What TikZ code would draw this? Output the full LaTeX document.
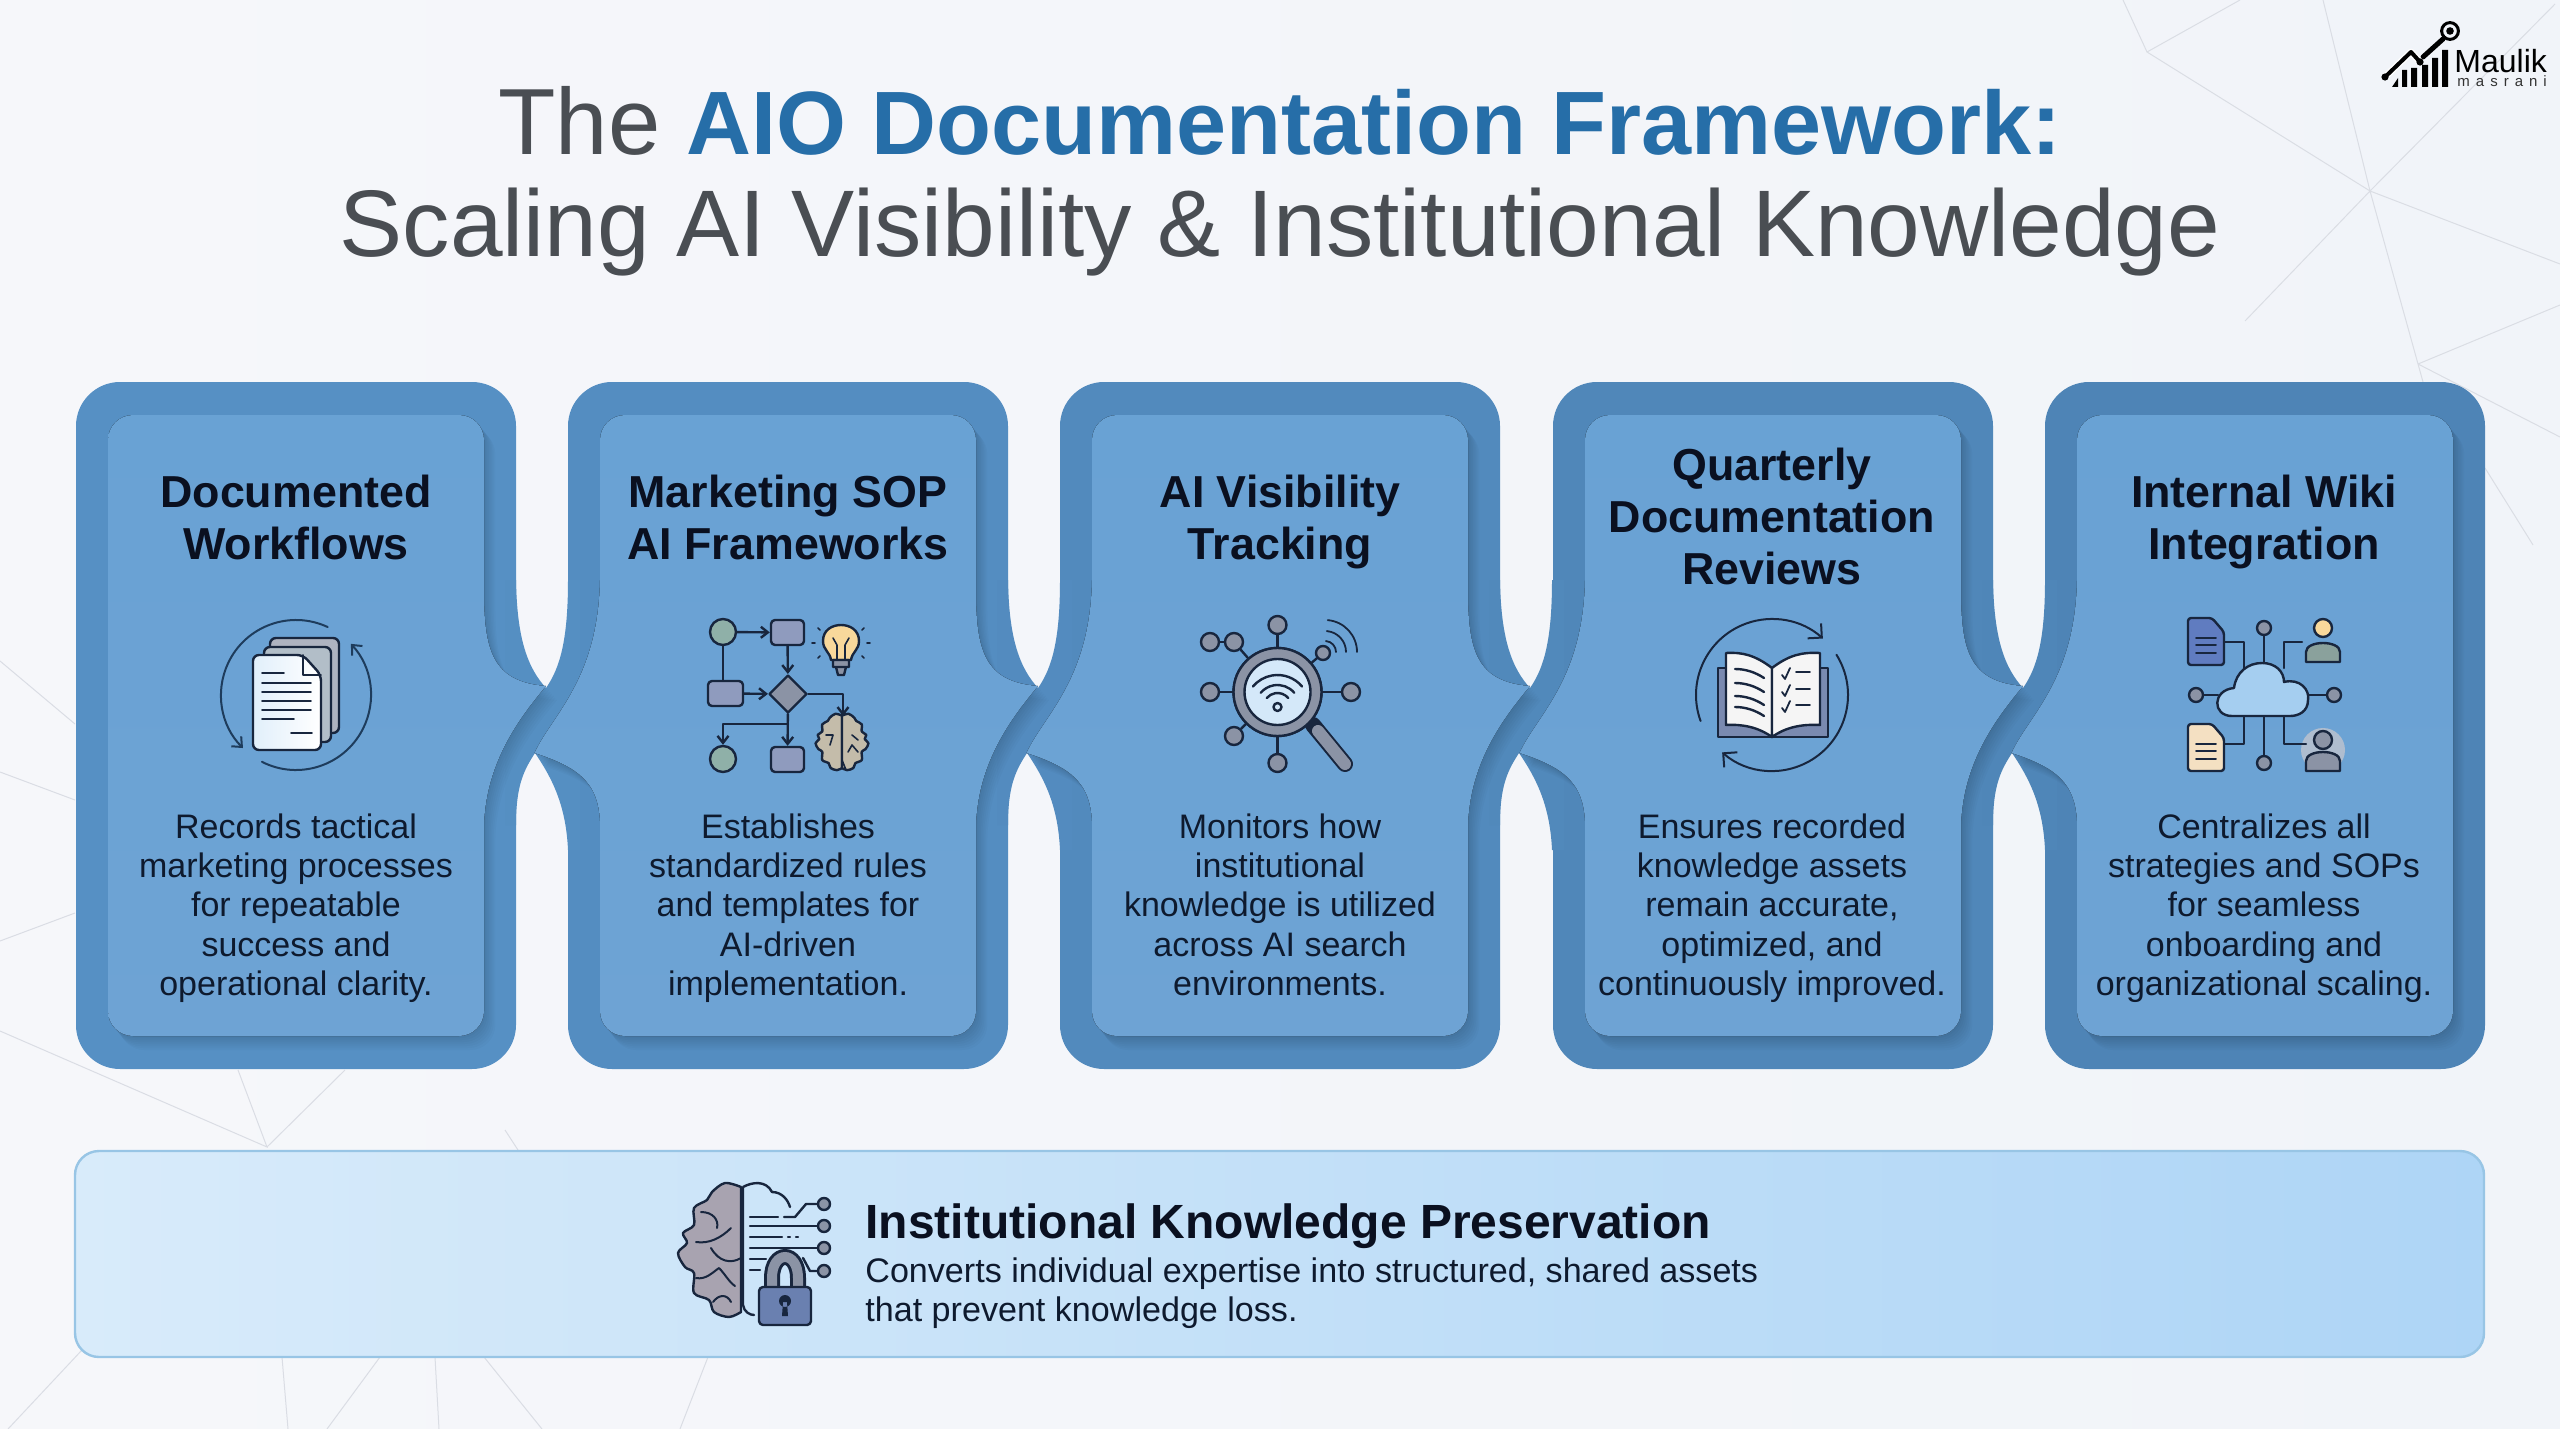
\documentclass[tikz,border=0pt]{standalone}
\usepackage{fontspec}
\setmainfont{Liberation Sans}
\newfontfamily\spacedfont[LetterSpace=40]{Liberation Sans}
\usetikzlibrary{arrows.meta, shapes.geometric}
\definecolor{bgleft}{RGB}{246, 247, 250}
\definecolor{bgright}{RGB}{241, 244, 249}
\definecolor{netgray}{RGB}{218, 221, 228}
\definecolor{bandblue}{RGB}{78, 132, 182}
\definecolor{bandlight}{RGB}{86, 144, 196}
\definecolor{facetop}{RGB}{105, 162, 212}
\definecolor{facebot}{RGB}{110, 163, 212}
\definecolor{titleblue}{RGB}{38, 110, 168}
\definecolor{titlegray}{RGB}{74, 78, 83}
\definecolor{inkdark}{RGB}{10, 16, 32}
\definecolor{inktext}{RGB}{14, 26, 46}
\definecolor{icondark}{RGB}{24, 38, 62}
\definecolor{iconarc}{RGB}{30, 60, 92}
\definecolor{icongray}{RGB}{139, 147, 165}
\definecolor{iconslate}{RGB}{143, 155, 190}
\definecolor{icongreen}{RGB}{143, 176, 168}
\definecolor{iconsand}{RGB}{248, 216, 155}
\definecolor{iconbrain}{RGB}{196, 188, 170}
\definecolor{iconglass}{RGB}{212, 232, 249}
\definecolor{iconcloud}{RGB}{165, 206, 240}
\definecolor{iconindigo}{RGB}{96, 124, 192}
\definecolor{iconcream}{RGB}{244, 224, 194}
\definecolor{bannerline}{RGB}{152, 197, 229}
\definecolor{bannerleft}{RGB}{216, 235, 250}
\definecolor{bannerright}{RGB}{174, 213, 246}
\definecolor{brainbig}{RGB}{168, 163, 176}
\definecolor{lockblue}{RGB}{106, 128, 176}

% the face of a card, in the frame of the first card
\newcommand{\facepath}[2]{(108,440) arc[start angle=180,end angle=90,radius=12.5pt] -- (459,415)
  arc[start angle=90,end angle=0,radius=12.5pt] #1 arc[start angle=0,end angle=-90,radius=12.5pt]
  -- (133,1036) arc[start angle=-90,end angle=-180,radius=12.5pt] #2 -- cycle}
\newcommand{\tabright}{-- (484,590) .. controls (484,650) and (492,682) .. (546,686)
  .. controls (522,715) and (486,760) .. (484,825) -- (484,1011)}
\newcommand{\flatright}{-- (484,1011)}
\newcommand{\notchleft}{-- (108,821) .. controls (106,785) and (90,768) .. (42.5,753)
  .. controls (60,715) and (106,680) .. (108,580)}
\newcommand{\flatleft}{}
\newcommand{\faceshadow}[3]{\foreach \s in {2,4,...,14}{
  \fill[black, opacity=.02, shift={(#1+\s*.8,\s)}] \facepath{#2}{#3};}}
% half a brain, spine on x=0
\newcommand{\brainhalf}{plot[smooth, tension=.55] coordinates {(0,-63) (-16,-67) (-29,-58) (-34,-50)
  (-47,-42) (-47,-25) (-58,-17) (-54,-7) (-63,3) (-56,17) (-47,23) (-47,43) (-32,50) (-27,62)
  (-12,67) (0,62)} -- cycle}

\tikzset{
  cardtitle/.style={font=\fontsize{22.4}{26}\selectfont\bfseries, text=inkdark, align=center, inner sep=0},
  carddesc/.style={font=\fontsize{17}{19.6}\selectfont, text=inktext, align=center, inner sep=0},
  icline/.style={draw=icondark, line width=1.2pt, line join=round, line cap=round},
  icarc/.style={draw=iconarc, line width=1pt, line cap=round},
  icarrow/.style={icline, -{Straight Barb[length=3.5pt, width=5.5pt]}},
  bluecirc/.style={circle, icline, fill=icongray, minimum size=9pt, inner sep=0},
  flowcirc/.style={circle, icline, fill=icongreen, minimum size=13pt, inner sep=0},
  flowsq/.style={rectangle, rounded corners=2pt, icline, fill=iconslate, minimum width=16.5pt,
                 minimum height=12.5pt, inner sep=0},
  lockcirc/.style={circle, draw=icondark, fill=icongray, minimum size=6pt, inner sep=0, line width=1.2pt},
}
\newcommand{\wifiarc}[4]{([shift={(#3:#4)}]#1,#2) arc[start angle=#3, end angle=180-#3, radius=#4]}

\begin{document}
\begin{tikzpicture}[x=0.5pt, y=-0.5pt]
\useasboundingbox (0,0) rectangle (2560,1429);
\fill[left color=bgleft, right color=bgright] (0,0) rectangle (2560,1429);

% Background net
\draw[netgray, line width=.5pt] (2123,0) -- (2147,52) -- (2240,0)
  (2147,52) -- (2370,191) -- (2323,0) (2555,4) -- (2370,191) -- (2560,264)
  (2370,191) -- (2245,321) (2370,191) -- (2418,364) -- (2560,305)
  (2418,364) -- (2423,382) (2418,364) -- (2560,437) (2485,468) -- (2533,545)
  (0,661) -- (75,724) (0,772) -- (75,800) (0,941) -- (75,913)
  (0,1031) -- (267,1147) -- (238,1070) (267,1147) -- (345,1070) (505,1130) -- (518,1150)
  (82,1350) -- (8,1429) (282,1357) -- (288,1429) (380,1357) -- (327,1429)
  (435,1357) -- (439,1429) (484,1357) -- (542,1429) (708,1357) -- (680,1429);

% Title
\node[font=\fontsize{47}{52}\selectfont, text=titlegray, inner sep=0] (titleone) at (1280,121)
  {The \textcolor{titleblue}{\fontsize{45}{52}\selectfont\bfseries AIO Documentation Framework:}};
\node[font=\fontsize{47.3}{52}\selectfont, text=titlegray, inner sep=0] (titletwo) at (1280,232)
  {Scaling AI Visibility \& Institutional Knowledge};

% Card outlines and their joints
\foreach \dx/\p in {0/0,492/25,984/50,1477/75,1969/100}
  \fill[bandblue!\p!bandlight, rounded corners=22pt] (76+\dx,382) rectangle (516+\dx,1069);
\foreach \dx/\p in {0/12,492/37,984/62,1477/87}
  \fill[bandblue!\p!bandlight, shift={(\dx,0)}] (505,580) -- (516,580) .. controls (517,640) and (528,668) .. (546,688)
    .. controls (560,668) and (568,640) .. (568,580) -- (580,580) -- (580,850) -- (568,850)
    .. controls (566,805) and (552,778) .. (535,753) .. controls (524,770) and (516,785) .. (516,825)
    -- (505,825) -- cycle;

% Card faces
\faceshadow{0}{\tabright}{\flatleft}
\faceshadow{492}{\tabright}{\notchleft}
\faceshadow{984}{\tabright}{\notchleft}
\faceshadow{1477}{\tabright}{\notchleft}
\faceshadow{1969}{\flatright}{\notchleft}
\fill[top color=facetop, bottom color=facebot] \facepath{\tabright}{\flatleft};
\fill[top color=facetop, bottom color=facebot, shift={(492,0)}] \facepath{\tabright}{\notchleft};
\fill[top color=facetop, bottom color=facebot, shift={(984,0)}] \facepath{\tabright}{\notchleft};
\fill[top color=facetop, bottom color=facebot, shift={(1477,0)}] \facepath{\tabright}{\notchleft};
\fill[top color=facetop, bottom color=facebot, shift={(1969,0)}] \facepath{\flatright}{\notchleft};

% Card titles
\node[cardtitle] (titlea) at (296,523) {\strut Documented\\Workflows\strut};
\node[cardtitle] (titleb) at (788,523) {\strut Marketing SOP\\AI Frameworks\strut};
\node[cardtitle] (titlec) at (1280,523) {\strut AI Visibility\\Tracking\strut};
\node[cardtitle] (titled) at (1772,522) {\strut Quarterly\\Documentation\\Reviews\strut};
\node[cardtitle] (titlee) at (2264,523) {\strut Internal Wiki\\Integration\strut};

% Card descriptions
\node[carddesc] (desca) at (296,909) {\strut Records tactical\\marketing processes\\for repeatable\\success and\\operational clarity.\strut};
\node[carddesc] (descb) at (788,909) {\strut Establishes\\standardized rules\\and templates for\\AI-driven\\implementation.\strut};
\node[carddesc] (descc) at (1280,909) {\strut Monitors how\\institutional\\knowledge is utilized\\across AI search\\environments.\strut};
\node[carddesc] (descd) at (1772,909) {\strut Ensures recorded\\knowledge assets\\remain accurate,\\optimized, and\\continuously improved.\strut};
\node[carddesc] (desce) at (2264,909) {\strut Centralizes all\\strategies and SOPs\\for seamless\\onboarding and\\organizational scaling.\strut};

% Icon: stack of documents
\draw[icarc, -{Straight Barb[length=4pt, width=7pt]}] ([shift={(65:37.5pt)}]296,695) arc[start angle=65, end angle=225, radius=37.5pt];
\draw[icarc, -{Straight Barb[length=4pt, width=7pt]}] ([shift={(243:37.5pt)}]296,695) arc[start angle=243, end angle=403, radius=37.5pt];
\draw[icline, fill=icongray!70, rounded corners=3pt] (270,638) rectangle (339,733);
\draw[icline, fill=iconglass!60!gray, rounded corners=3pt] (264,647) rectangle (331,742);
\draw[icline, left color=iconglass!70, right color=white, rounded corners=3pt] (253,655) -- (303,655) -- (321,675) -- (321,750) -- (253,750) -- cycle;
\draw[icline, line width=.8pt] (303,655) -- (303,675) -- (321,675);
\draw[icline, line width=.9pt] (262,673) -- (284,673) (262,683) -- (311,683) (262,692) -- (311,692)
  (262,701) -- (311,701) (262,710) -- (311,710) (262,719) -- (294,719) (291,733) -- (312,733);

% Icon: flow chart
\node[flowcirc] (floworigin) at (723,632) {};
\node[flowsq] (flowsqtop) at (787.5,632.5) {};
\node[flowsq, minimum width=17.5pt] (flowrect) at (725.5,693.5) {};
\node[diamond, icline, fill=icongray, aspect=1, minimum size=19pt, inner sep=0] (flowdiam) at (788,694) {};
\node[flowcirc] (flowend) at (723,759) {};
\node[flowsq] (flowsqbot) at (787.5,759.5) {};
\coordinate (flowbrain) at (843,716);
\coordinate (flowbranch) at (788,724);
\draw[icarrow] (floworigin) -- (flowsqtop);
\draw[icarrow] (flowsqtop) -- (flowdiam);
\draw[icline] (floworigin) -- (flowrect.north -| floworigin);
\draw[icarrow] (flowrect) -- (flowdiam);
\draw[icarrow] (flowdiam) -- (flowsqbot);
\draw[icarrow] (flowbranch) -| (flowend);
\draw[icarrow] (flowdiam.east) -| (flowbrain);
\draw[icline, fill=iconsand] (831,660) .. controls (830,652) and (823,650) .. (823,641) .. controls (823,630) and (832,625) .. (841,625)
  .. controls (850,625) and (859,630) .. (859,641) .. controls (859,650) and (852,652) .. (851,660) -- cycle;
\draw[icline, fill=icongray] (833,660) rectangle (849,667) (836,667) -- (846,667) -- (844,675) -- (838,675) -- cycle;
\draw[icline, line width=.8pt] (837,660) -- (837,645) -- (833,638) (845,660) -- (845,645) -- (849,638);
\draw[icline, line width=.8pt] (818,628) -- (820,630) (864,628) -- (862,630) (812,643) -- (815,643)
  (870,643) -- (867,643) (818,658) -- (820,656) (864,658) -- (862,656);
\begin{scope}[shift={(842,742)}, scale=.42]
  \draw[icline, fill=iconbrain] \brainhalf;
\end{scope}
\begin{scope}[shift={(842,742)}, xscale=-.42, yscale=.42]
  \draw[icline, fill=iconbrain] \brainhalf;
\end{scope}
\draw[icline, line width=.8pt] (826,735) -- (833,735) -- (830,745) (852,735) -- (858,740) (848,752) -- (852,745) -- (858,752) (842,760) -- (846,770);

% Icon: search hub
\draw[icline, line width=8pt, draw=icondark, line cap=round] (1313,725) -- (1345,764);
\node[circle, icline, fill=icongray, minimum size=44pt, inner sep=0] (hublens) at (1277.5,692) {};
\node[bluecirc] (hubtop) at (1277.5,625) {};
\node[bluecirc] (hubleft) at (1210,692) {};
\node[bluecirc] (hubright) at (1351,692) {};
\node[bluecirc] (hubbot) at (1277.5,763) {};
\node[bluecirc] (hubdbl) at (1234,642) {};
\node[bluecirc] (hubdblb) at (1210,642) {};
\node[bluecirc] (hubsw) at (1234,736) {};
\node[bluecirc, minimum size=7pt] (hubne) at (1323,653) {};
\foreach \n in {hubtop, hubleft, hubright, hubbot, hubdbl, hubsw, hubne}
  \draw[icline] (hublens) -- (\n);
\draw[icline] (hubdbl) -- (hubdblb);
\node[circle, icline, fill=icongray, minimum size=44pt, inner sep=0] at (1277.5,692) {};
\draw[line width=6pt, draw=icongray, line cap=round] (1318,731) -- (1345,764);
\node[circle, icline, fill=iconglass, minimum size=33pt, inner sep=0] (hubglass) at (1277.5,692) {};
\node[circle, icline, minimum size=4pt, inner sep=0] (hubdot) at (1277.5,707) {};
\draw[icline] \wifiarc{1277.5}{707}{40}{7pt} \wifiarc{1277.5}{707}{40}{11pt} \wifiarc{1277.5}{707}{40}{16pt};
\draw[icline, line width=.9pt] ([shift={(0:5.5pt)}]1325,652) arc[start angle=0, end angle=85, radius=5.5pt]
  ([shift={(0:10.5pt)}]1325,652) arc[start angle=0, end angle=85, radius=10.5pt]
  ([shift={(0:16pt)}]1325,652) arc[start angle=0, end angle=85, radius=16pt];

% Icon: book in a cycle
\draw[icline, line width=1pt, -{Straight Barb[length=5pt, width=10pt]}] ([shift={(200:38pt)}]1772,695) arc[start angle=200, end angle=48, radius=38pt];
\draw[icline, line width=1pt, -{Straight Barb[length=5pt, width=10pt]}] ([shift={(32:38pt)}]1772,695) arc[start angle=32, end angle=-131, radius=38pt];
\draw[icline, fill=icongray!60!iconindigo] (1718,668) rectangle (1828,737);
\draw[icline, fill=white!92!gray] (1772,668) .. controls (1755,655) and (1742,652) .. (1726,653) -- (1726,725) .. controls (1742,724) and (1758,727) .. (1772,737) -- cycle;
\draw[icline, fill=white!92!gray] (1772,668) .. controls (1789,655) and (1802,652) .. (1820,653) -- (1820,725) .. controls (1802,724) and (1786,727) .. (1772,737) -- cycle;
\draw[icline] (1735,669) .. controls (1745,669) and (1755,672) .. (1764,678)
  (1735,683) .. controls (1745,683) and (1755,686) .. (1764,692)
  (1735,696) .. controls (1745,696) and (1755,699) .. (1764,705)
  (1735,707) .. controls (1745,707) and (1755,710) .. (1764,716);
\draw[icline, line width=.9pt] (1782,675) -- (1785,679) -- (1790,668) (1796,672) -- (1810,672)
  (1782,692) -- (1785,696) -- (1790,685) (1796,689) -- (1810,689)
  (1782,708) -- (1785,712) -- (1790,701) (1796,705) -- (1810,705);

% Icon: wiki cloud
\fill[icongray!50!iconglass] (2323,750) circle[radius=11pt];
\node[bluecirc, minimum size=7pt] (wikitop) at (2264,628) {};
\node[bluecirc, minimum size=7pt] (wikileft) at (2196,695) {};
\node[bluecirc, minimum size=7pt] (wikiright) at (2334,695) {};
\node[bluecirc, minimum size=7pt] (wikibot) at (2264,763) {};
\coordinate (cloudtop) at (2264,665);
\coordinate (cloudleft) at (2218,695);
\coordinate (cloudright) at (2308,695);
\coordinate (cloudbot) at (2264,716);
\draw[icline] (wikitop) -- (cloudtop) (wikileft) -- (cloudleft) (wikiright) -- (cloudright) (wikibot) -- (cloudbot);
\draw[icline] (2224,642) -- (2244,642) -- (2244,668) (2302,642) -- (2284,642) -- (2284,668)
  (2224,744) -- (2244,744) -- (2244,716) (2306,744) -- (2284,744) -- (2284,716);
\draw[icline, fill=iconcloud] (2232,716) .. controls (2212,716) and (2212,690) .. (2234,688) .. controls (2236,672) and (2248,663) .. (2262,663)
  .. controls (2276,663) and (2284,672) .. (2284,682) .. controls (2300,678) and (2310,690) .. (2308,700)
  .. controls (2308,712) and (2298,716) .. (2290,716) -- cycle;
\draw[icline, fill=iconindigo, rounded corners=1.5pt] (2188,618) -- (2212,618) -- (2224,632) -- (2224,665) -- (2188,665) -- cycle;
\draw[icline, line width=.9pt] (2196,638) -- (2216,638) (2196,645) -- (2216,645) (2196,653) -- (2216,653);
\draw[icline, fill=iconcream, rounded corners=1.5pt] (2188,724) -- (2212,724) -- (2224,738) -- (2224,771) -- (2188,771) -- cycle;
\draw[icline, line width=.9pt] (2196,744) -- (2216,744) (2196,751) -- (2216,751) (2196,759) -- (2216,759);
\draw[icline, fill=iconsand] (2323,628) circle[radius=4.5pt];
\draw[icline, fill=icongreen!70!gray] (2306,662) -- (2306,652) .. controls (2306,640) and (2340,640) .. (2340,652) -- (2340,662) -- cycle;
\draw[icline, fill=icongray] (2323,740) circle[radius=4.5pt];
\draw[icline, fill=icongray] (2306,771) -- (2306,761) .. controls (2306,749) and (2340,749) .. (2340,761) -- (2340,771) -- cycle;

% Bottom banner
\draw[bannerline, line width=1.2pt, left color=bannerleft, right color=bannerright, rounded corners=12pt] (75,1151) rectangle (2484,1357);
\node[font=\fontsize{24}{28}\selectfont\bfseries, text=inkdark, anchor=west, inner sep=0] (bantitle) at (865,1226) {Institutional Knowledge Preservation};
\node[font=\fontsize{17.05}{19.6}\selectfont, text=inktext, anchor=west, align=left, inner sep=0] (bandesc) at (865,1294)
  {\strut Converts individual expertise into structured, shared assets\\that prevent knowledge loss.\strut};

% Icon: brain and lock
\begin{scope}[shift={(741,1250)}]
  \draw[icline, fill=brainbig] \brainhalf;
  \draw[icline, line width=1pt] (-40,-38) .. controls (-28,-38) and (-22,-30) .. (-24,-22)
    (-45,-8) .. controls (-32,-6) and (-20,-12) .. (-10,-22)
    (-30,-2) .. controls (-22,12) and (-10,14) .. (0,8)
    (-45,28) .. controls (-35,30) and (-28,22) .. (-22,18) (-22,18) .. controls (-16,24) and (-12,32) .. (-6,36)
    (-28,52) .. controls (-22,44) and (-14,44) .. (-10,52);
\end{scope}
\draw[icline] (743,1187) .. controls (752,1182) and (766,1180) .. (772,1192) .. controls (782,1192) and (788,1200) .. (790,1207)
  (743,1187) -- (743,1305) .. controls (744,1312) and (750,1315) .. (754,1315);
\node[lockcirc] (cirone) at (824,1204) {};
\node[lockcirc] (cirtwo) at (824,1226) {};
\node[lockcirc] (cirthree) at (824,1248) {};
\node[lockcirc] (cirfour) at (824,1271) {};
\draw[icline] (784,1217) -- (795,1217) -- (806,1204) -- (cirone);
\draw[icline] (750,1226) -- (cirtwo);
\draw[icline] (750,1248) -- (cirthree);
\draw[icline] (803,1258) -- (810,1271) -- (cirfour);
\draw[icline] (750,1217) -- (778,1217) (750,1237) -- (782,1237) (788,1237) -- (790,1237) (796,1237) -- (798,1237);
\draw[icline] (750,1259) -- (766,1259) (750,1270) -- (760,1270);
\draw[icondark, line width=8pt] (772,1290) -- (772,1278) .. controls (772,1250) and (798,1250) .. (798,1278) -- (798,1290);
\draw[icongray, line width=5pt] (772,1290) -- (772,1278) .. controls (772,1250) and (798,1250) .. (798,1278) -- (798,1290);
\draw[icline, fill=lockblue, rounded corners=2pt] (759,1287) rectangle (811,1325);
\fill[icondark] (785,1301) circle[radius=3pt] (783,1302) -- (787,1302) -- (788,1316) -- (782,1316) -- cycle;

% Logo
\draw[black, line width=2.5pt, line cap=round] (2423,57) -- (2443,39);
\draw[black, line width=1.5pt] (2450,31) circle[radius=4.2pt];
\fill[black] (2450,31) circle[radius=1.9pt];
\fill[black] (2392,87) -- (2398,78) -- (2398,87) -- cycle (2402,70) rectangle (2407,87) (2411,68) rectangle (2417,87)
  (2422,65) rectangle (2428,87) (2432,58) rectangle (2438,87) (2442,50) rectangle (2448,87);
\draw[white, line width=3.4pt, line join=round] (2385,77) -- (2411,52) -- (2420,62);
\draw[black, line width=2pt, line join=round, line cap=round] (2385,77) -- (2411,52) -- (2420,62);
\fill[black] (2385,77) circle[radius=1.8pt] (2420,62) circle[radius=1.8pt];
\node[font=\fontsize{16}{18}\selectfont, text=black, anchor=base west, inner sep=0] (logoname) at (2454,73) {Maulik};
\node[font=\fontsize{7.5}{9}\selectfont\spacedfont, text=black!80, anchor=base west, inner sep=0] (logosub) at (2457,87) {masrani};
\end{tikzpicture}
\end{document}
